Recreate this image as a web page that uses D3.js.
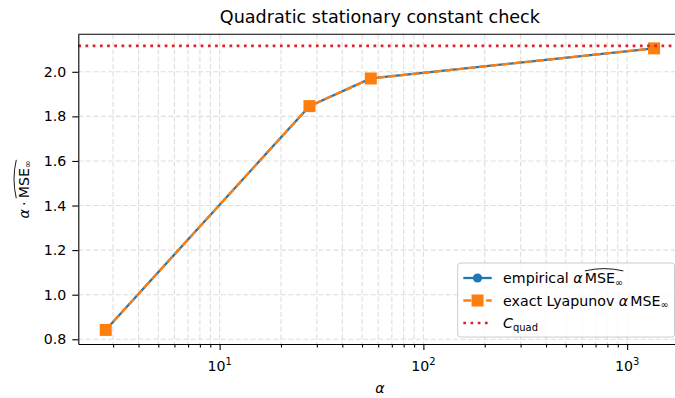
<!DOCTYPE html>
<html>
<head>
<meta charset="utf-8">
<script src="https://d3js.org/d3.v7.min.js"></script>
<style>
  body { margin: 0; background: #fff; }
  svg text { font-family: "DejaVu Sans", sans-serif; fill: #000; white-space: pre; }
</style>
</head>
<body>
<div id="chart"></div>
<script>
// data
const alphas = [2.76, 27.6, 55.2, 1356];
const empirical = [0.842, 1.846, 1.970, 2.105];
const exactLyap = [0.842, 1.846, 1.970, 2.105];
const cQuad = 2.116;
const yTicks = [0.8, 1.0, 1.2, 1.4, 1.6, 1.8, 2.0];
const xMajor = [10, 100, 1000];
const xMajorExp = ['1', '2', '3'];

const width = 675, height = 398;
const box = { left: 78.3, right: 681.5, top: 34.3, bottom: 344 };
const fs = 14.2;
const blue = '#1f77b4', orange = '#ff7f0e', red = '#d62728';

const svg = d3.select('#chart').append('svg')
  .attr('width', width).attr('height', height)
  .style('background', '#fff');

// scales with matplotlib-like 5% margins
const lx = d3.extent(alphas).map(Math.log10);
const mx = (lx[1] - lx[0]) * 0.05;
const x = d3.scaleLog()
  .domain([Math.pow(10, lx[0] - mx), Math.pow(10, lx[1] + mx)])
  .range([box.left, box.right]);
const ye = d3.extent(empirical.concat(exactLyap));
const my = (ye[1] - ye[0]) * 0.05;
const y = d3.scaleLinear()
  .domain([ye[0] - my, ye[1] + my])
  .range([box.bottom, box.top]);

// minor ticks on the log axis
const xMinor = [];
for (let p = 0; p <= 3; p++) {
  for (let k = 2; k <= 9; k++) {
    const v = k * Math.pow(10, p);
    if (v > x.domain()[0] && v < x.domain()[1]) xMinor.push(v);
  }
}

// grid
const grid = svg.append('g').attr('stroke', '#b0b0b0').attr('stroke-opacity', 0.42)
  .attr('stroke-width', 1.1).attr('stroke-dasharray', '5,2.5');
grid.selectAll('.gx').data(xMajor.concat(xMinor)).enter().append('line')
  .attr('x1', d => x(d)).attr('x2', d => x(d))
  .attr('y1', box.top).attr('y2', box.bottom);
grid.selectAll('.gy').data(yTicks).enter().append('line')
  .attr('x1', box.left).attr('x2', box.right)
  .attr('y1', d => y(d)).attr('y2', d => y(d));

// series
const line = (vals) => d3.line().x((d, i) => x(alphas[i])).y(d => y(d))(vals);

svg.append('path').attr('d', line(empirical)).attr('fill', 'none')
  .attr('stroke', blue).attr('stroke-width', 2.3);
svg.selectAll('.dot').data(empirical).enter().append('circle')
  .attr('cx', (d, i) => x(alphas[i])).attr('cy', d => y(d)).attr('r', 4.6)
  .attr('fill', blue);

svg.append('path').attr('d', line(exactLyap)).attr('fill', 'none')
  .attr('stroke', orange).attr('stroke-width', 2.3).attr('stroke-dasharray', '8,3.4');
svg.selectAll('.sq').data(exactLyap).enter().append('rect')
  .attr('x', (d, i) => x(alphas[i]) - 6).attr('y', d => y(d) - 6)
  .attr('width', 12).attr('height', 12).attr('fill', orange);

svg.append('line')
  .attr('x1', box.left).attr('x2', box.right)
  .attr('y1', y(cQuad)).attr('y2', y(cQuad))
  .attr('stroke', red).attr('stroke-width', 2.7).attr('stroke-dasharray', '2.7,4.5');

// axes
svg.append('g').attr('transform', `translate(0,${box.bottom})`)
  .call(d3.axisBottom(x).tickValues(xMajor).tickSize(6).tickSizeOuter(0).tickFormat(''));
const axXm = svg.append('g').attr('transform', `translate(0,${box.bottom})`)
  .call(d3.axisBottom(x).tickValues(xMinor).tickSize(3.5).tickSizeOuter(0).tickFormat(''));
axXm.select('.domain').remove();
const axY = svg.append('g').attr('transform', `translate(${box.left},0)`)
  .call(d3.axisLeft(y).tickValues(yTicks).tickSize(6).tickSizeOuter(0).tickPadding(6)
    .tickFormat(d3.format('.1f')));
axY.selectAll('text').attr('font-size', fs).attr('font-family', 'DejaVu Sans').attr('fill', '#000');
svg.selectAll('.domain, .tick line').attr('stroke', '#000').attr('stroke-width', 1.1);
svg.append('line').attr('x1', box.left).attr('x2', box.right)
  .attr('y1', box.top).attr('y2', box.top).attr('stroke', '#000').attr('stroke-width', 1.1);

// mathtext-like rich text: returns width
function rich(g, parts, size) {
  let cx = 0;
  const segs = [];
  parts.forEach(p => {
    if (p.space) { cx += p.space * size; return; }
    const s = (p.sub || p.sup) ? size * 0.7 : size;
    const dy = p.sub ? size * 0.2 : p.sup ? -size * 0.42 : 0;
    const t = g.append('text').attr('x', cx).attr('y', dy).attr('font-size', s)
      .attr('font-style', p.it ? 'italic' : 'normal').text(p.t);
    const w = t.node().getComputedTextLength();
    segs.push({ x0: cx, x1: cx + w, hat: p.hat });
    cx += w;
  });
  const hs = segs.filter(s => s.hat);
  if (hs.length) {
    const a = hs[0].x0, b = hs[hs.length - 1].x1;
    const base = -size * 0.86, top = -size * 1.08;
    g.append('path')
      .attr('d', `M${a},${base} Q${(a + b) / 2},${top - size * 0.1} ${b},${base}`)
      .attr('fill', 'none').attr('stroke', '#000').attr('stroke-width', 0.9);
  }
  return cx;
}

// x tick labels 10^n
xMajor.forEach((v, i) => {
  const g = svg.append('g');
  const w = rich(g, [{ t: '10' }, { t: xMajorExp[i], sup: true }], fs);
  g.attr('transform', `translate(${x(v) - w / 2},${box.bottom + 27})`);
});

// axis labels
{
  const g = svg.append('g');
  const w = rich(g, [{ t: 'α', it: true }], fs);
  g.attr('transform', `translate(${(box.left + box.right) / 2 - w / 2},${393})`);
}
{
  const outer = svg.append('g')
    .attr('transform', `translate(28.5,${(box.top + box.bottom) / 2}) rotate(-90)`);
  const g = outer.append('g');
  const w = rich(g, [
    { t: 'α', it: true }, { space: 0.22 }, { t: '·' }, { space: 0.22 },
    { t: 'MSE', hat: true }, { t: '∞', sub: true, hat: true }
  ], fs);
  g.attr('transform', `translate(${-w / 2},0)`);
}

// title
svg.append('text')
  .attr('x', (box.left + box.right) / 2).attr('y', 23)
  .attr('text-anchor', 'middle').attr('font-size', 17.6)
  .text('Quadratic stationary constant check');

// legend
const legItems = [
  { color: blue, dash: null, marker: 'circle',
    label: [{ t: 'empirical' }, { space: 0.32 }, { t: 'α', it: true }, { space: 0.15 },
            { t: 'MSE', hat: true }, { t: '∞', sub: true, hat: true }] },
  { color: orange, dash: '8,3.4', marker: 'square',
    label: [{ t: 'exact Lyapunov' }, { space: 0.32 }, { t: 'α', it: true }, { space: 0.15 },
            { t: 'MSE' }, { t: '∞', sub: true }] },
  { color: red, dash: '2.7,4.5', marker: null,
    label: [{ t: 'C', it: true }, { t: 'quad', sub: true }] }
];
const leg = svg.append('g');
const legFrame = leg.append('rect');
const pad = 0.4 * fs, handleLen = 2 * fs, textPad = 0.8 * fs, rowH = 22.5;
let maxW = 0;
const rows = legItems.map((d) => {
  const g = leg.append('g');
  const tg = g.append('g');
  const w = rich(tg, d.label, fs);
  maxW = Math.max(maxW, w);
  return { g, tg, d };
});
const legW = pad * 2 + handleLen + textPad + maxW;
const legH = 74;
const legRight = box.right - 7, legBottom = box.bottom - 7;
const legLeft = legRight - legW, legTop = legBottom - legH;
legFrame.attr('x', legLeft).attr('y', legTop).attr('width', legW).attr('height', legH)
  .attr('rx', 3).attr('fill', '#fff').attr('fill-opacity', 0.8)
  .attr('stroke', '#cccccc').attr('stroke-width', 1);
rows.forEach((r, i) => {
  const cy = legTop + 15 + i * rowH;
  const hx0 = legLeft + pad, hx1 = hx0 + handleLen;
  r.g.append('line').attr('x1', hx0).attr('x2', hx1).attr('y1', cy).attr('y2', cy)
    .attr('stroke', r.d.color).attr('stroke-width', r.d.marker ? 2.3 : 2.7)
    .attr('stroke-dasharray', r.d.dash);
  if (r.d.marker === 'circle') {
    r.g.append('circle').attr('cx', (hx0 + hx1) / 2).attr('cy', cy).attr('r', 4.6).attr('fill', r.d.color);
  } else if (r.d.marker === 'square') {
    r.g.append('rect').attr('x', (hx0 + hx1) / 2 - 6).attr('y', cy - 6)
      .attr('width', 12).attr('height', 12).attr('fill', r.d.color);
  }
  r.tg.attr('transform', `translate(${hx1 + textPad},${cy + fs * 0.36})`);
});
</script>
</body>
</html>
